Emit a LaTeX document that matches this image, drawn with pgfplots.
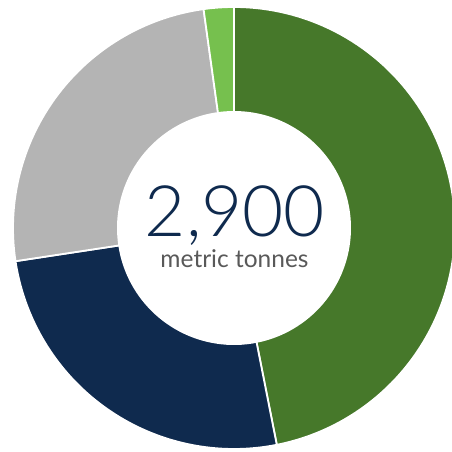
\documentclass[border=0pt]{standalone}
\usepackage{fontspec}
\setmainfont{Lato}
\newfontfamily\lightfont{Lato Light}
\usepackage{pgfplots}
\pgfplotsset{compat=1.18}
\usepackage{pgfplotstable}
\definecolor{dgreen}{HTML}{46782A}
\definecolor{navy}{HTML}{0F2A4E}
\definecolor{lgray}{HTML}{B4B4B4}
\definecolor{lgreen}{HTML}{76C04E}
\definecolor{txtgray}{HTML}{595959}
\pgfplotstableread{
label value
A 46.9
B 25.7
C 25.2
D 2.2
}\data
\pgfplotstablegetelem{0}{value}\of\data \let\vA\pgfplotsretval
\pgfplotstablegetelem{1}{value}\of\data \let\vB\pgfplotsretval
\pgfplotstablegetelem{2}{value}\of\data \let\vC\pgfplotsretval
\pgfplotstablegetelem{3}{value}\of\data \let\vD\pgfplotsretval
\pgfmathsetmacro\aA{0}
\pgfmathsetmacro\aB{\aA+3.6*\vA}
\pgfmathsetmacro\aC{\aB+3.6*\vB}
\pgfmathsetmacro\aD{\aC+3.6*\vC}
\pgfmathsetmacro\aE{\aD+3.6*\vD}
\def\cx{234}
\def\cy{224}
\def\R{221}
\def\r{117}
\begin{document}
\begin{tikzpicture}
\begin{axis}[
  width=452pt, height=452pt, scale only axis,
  xmin=0, xmax=452, ymin=0, ymax=452,
  hide axis, clip=true,
]
\addplot[fill=dgreen, draw=white, line width=1.8pt, domain=\aA:\aB, samples=100, variable=\t]
  ({\cx+\R*sin(\t)},{\cy+\R*cos(\t)}) -- (axis cs:\cx,\cy) -- cycle;
\addplot[fill=navy, draw=white, line width=1.8pt, domain=\aB:\aC, samples=60, variable=\t]
  ({\cx+\R*sin(\t)},{\cy+\R*cos(\t)}) -- (axis cs:\cx,\cy) -- cycle;
\addplot[fill=lgray, draw=white, line width=1.8pt, domain=\aC:\aD, samples=60, variable=\t]
  ({\cx+\R*sin(\t)},{\cy+\R*cos(\t)}) -- (axis cs:\cx,\cy) -- cycle;
\addplot[fill=lgreen, draw=white, line width=1.8pt, domain=\aD:\aE, samples=10, variable=\t]
  ({\cx+\R*sin(\t)},{\cy+\R*cos(\t)}) -- (axis cs:\cx,\cy) -- cycle;
\addplot[fill=white, draw=none, domain=0:360, samples=150, variable=\t]
  ({\cx+\r*sin(\t)},{\cy+\r*cos(\t)}) -- cycle;
\node[text=navy, font=\lightfont\fontsize{71}{71}\selectfont, anchor=base, inner sep=0pt, text depth=0pt] at (axis cs:235,215) {2,900};
\node[text=txtgray, font=\fontsize{24.5}{24.5}\selectfont, anchor=base, inner sep=0pt] at (axis cs:234.5,184) {metric tonnes};
\end{axis}
\pgfresetboundingbox
\path[use as bounding box] (current axis.south west) rectangle (current axis.north east);
\end{tikzpicture}
\end{document}
